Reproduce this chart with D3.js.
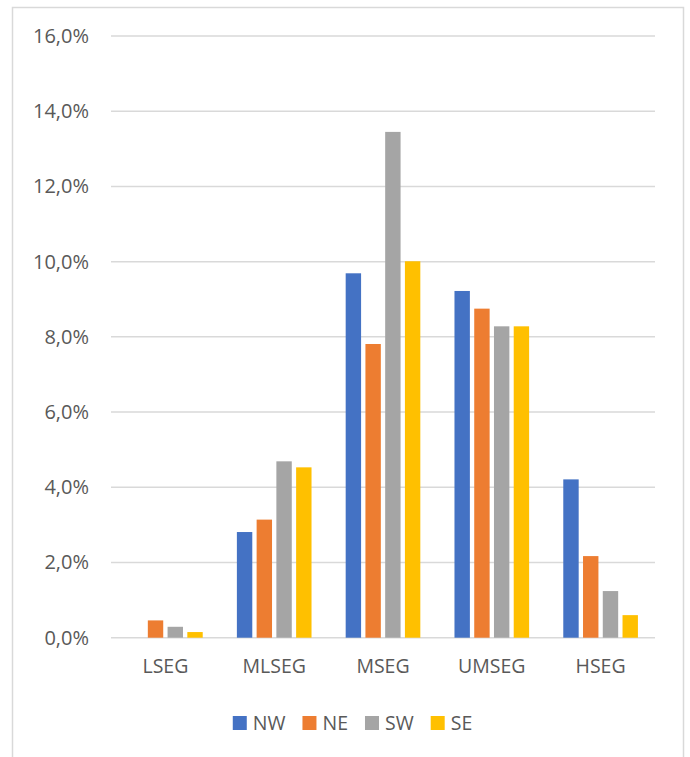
<!DOCTYPE html>
<html>
<head>
<meta charset="utf-8">
<script src="https://cdn.jsdelivr.net/npm/d3@7"></script>
<style>
  body { margin: 0; background: #fff; }
  svg text { font-family: "Open Sans", sans-serif; fill: #595959; }
</style>
</head>
<body>
<div id="chart"></div>
<script>
var categories = ["LSEG", "MLSEG", "MSEG", "UMSEG", "HSEG"];
var seriesNames = ["NW", "NE", "SW", "SE"];
var seriesColors = ["#4472C4", "#ED7D31", "#A5A5A5", "#FFC000"];

// percent values per series, one per category
var nwValues = [0, 2.81, 9.69, 9.22, 4.21];
var neValues = [0.46, 3.14, 7.81, 8.75, 2.17];
var swValues = [0.29, 4.69, 13.45, 8.28, 1.24];
var seValues = [0.15, 4.53, 10.01, 8.28, 0.60];

var yTicks = [0, 2, 4, 6, 8, 10, 12, 14, 16];

var allValues = [nwValues, neValues, swValues, seValues];

var width = 690, height = 757;
var plot = {left: 111, right: 655, top: 36, bottom: 637.7};

var svg = d3.select("#chart")
  .append("svg")
    .attr("width", width)
    .attr("height", height);

// chart frame
svg.append("rect")
  .attr("x", 12.5)
  .attr("y", 7.5)
  .attr("width", 671)
  .attr("height", 760)
  .attr("fill", "none")
  .attr("stroke", "#d9d9d9")
  .attr("stroke-width", 1.5);

var locale = d3.formatLocale({decimal: ",", thousands: ".", grouping: [3], currency: ["", "€"]});
var fmt = locale.format(".1f");

var x0 = d3.scaleBand()
  .domain(categories)
  .range([plot.left, plot.right])
  .paddingInner(0.274)
  .paddingOuter(0.137);

var x1 = d3.scaleBand()
  .domain(seriesNames)
  .range([0, x0.bandwidth()])
  .paddingInner(0.22)
  .paddingOuter(0.11);

var y = d3.scaleLinear()
  .domain([0, 16])
  .range([plot.bottom, plot.top]);

// gridlines
svg.append("g")
  .selectAll("line")
  .data(yTicks)
  .enter().append("line")
    .attr("x1", plot.left)
    .attr("x2", plot.right)
    .attr("y1", function(d) { return y(d); })
    .attr("y2", function(d) { return y(d); })
    .attr("stroke", "#d9d9d9")
    .attr("stroke-width", 1.5);

// y axis labels
var yAxis = d3.axisLeft(y)
  .tickValues(yTicks)
  .tickSize(0)
  .tickPadding(0)
  .tickFormat(function(d) { return fmt(d) + "%"; });

var yg = svg.append("g")
  .attr("transform", "translate(89,0)")
  .call(yAxis);
yg.select(".domain").remove();
yg.selectAll("text")
  .attr("font-size", "20px")
  .attr("font-family", "Open Sans, sans-serif")
  .attr("fill", "#595959");

// bars
var groups = svg.append("g")
  .selectAll("g")
  .data(categories)
  .enter().append("g")
    .attr("transform", function(d) { return "translate(" + x0(d) + ",0)"; });

groups.selectAll("rect")
  .data(function(cat, ci) {
    return seriesNames.map(function(s, si) {
      return {series: s, color: seriesColors[si], value: allValues[si][ci]};
    });
  })
  .enter().append("rect")
    .attr("x", function(d) { return x1(d.series); })
    .attr("y", function(d) { return y(d.value); })
    .attr("width", x1.bandwidth())
    .attr("height", function(d) { return y(0) - y(d.value); })
    .attr("fill", function(d) { return d.color; });

// x axis labels
var xAxis = d3.axisBottom(x0).tickSize(0).tickPadding(0);
var xg = svg.append("g")
  .attr("transform", "translate(0,659)")
  .call(xAxis);
xg.select(".domain").remove();
xg.selectAll("text")
  .attr("font-size", "19.5px")
  .attr("font-family", "Open Sans, sans-serif")
  .attr("fill", "#595959");

// legend
var legend = svg.append("g");
var items = legend.selectAll("g")
  .data(seriesNames)
  .enter().append("g");

items.append("rect")
  .attr("width", 14)
  .attr("height", 14)
  .attr("y", 716)
  .attr("fill", function(d, i) { return seriesColors[i]; });

items.append("text")
  .attr("x", 20)
  .attr("y", 730)
  .attr("font-size", "19.5px")
  .text(function(d) { return d; });

var offset = 0, positions = [];
items.each(function() {
  var w = d3.select(this).select("text").node().getComputedTextLength();
  positions.push(offset);
  offset += 20 + w + 17;
});
var totalW = offset - 17;
var startX = 352.5 - totalW / 2;
items.attr("transform", function(d, i) { return "translate(" + (startX + positions[i]) + ",0)"; });
</script>
</body>
</html>
